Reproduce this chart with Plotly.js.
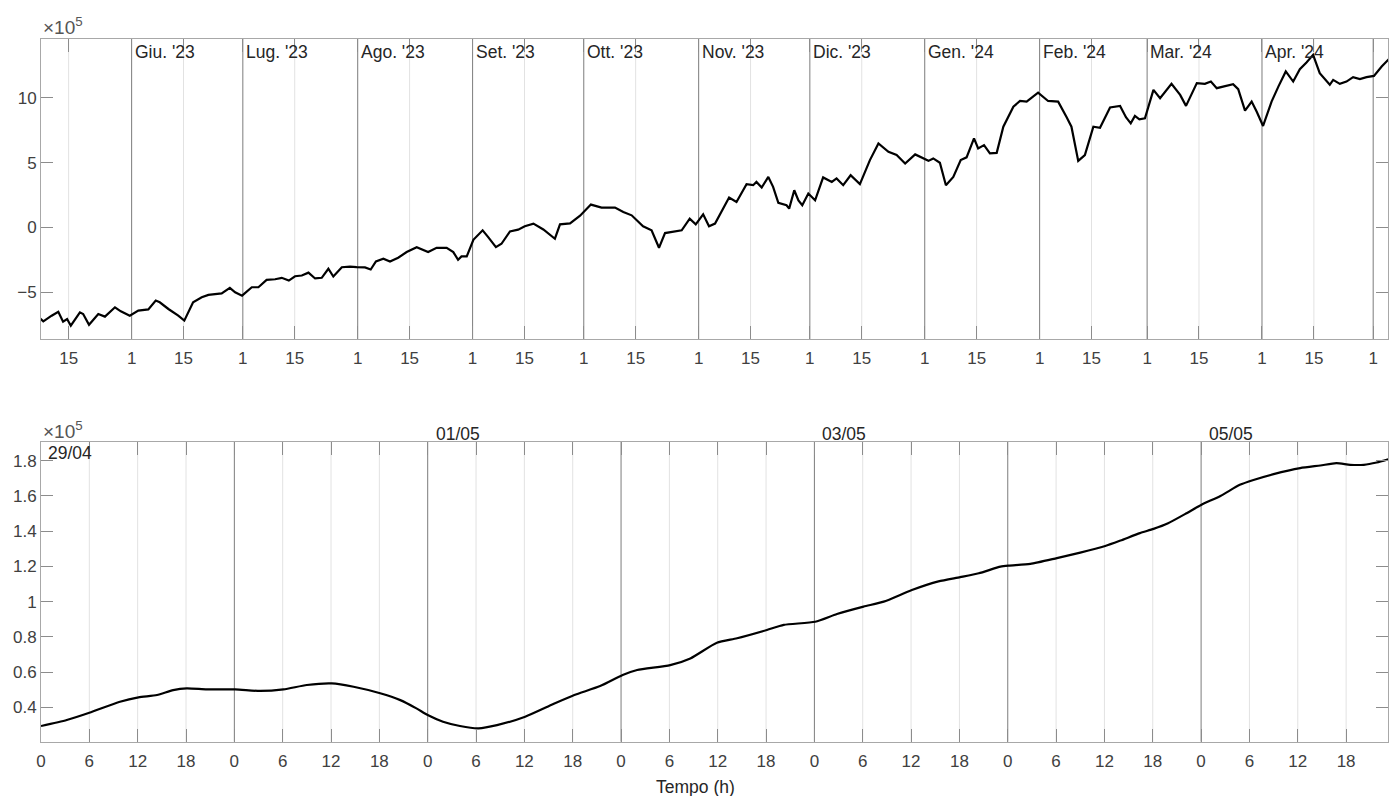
<!DOCTYPE html>
<html>
<head>
<meta charset="utf-8">
<script src="https://cdn.plot.ly/plotly-3.0.1.min.js"></script>
<style>
  html, body { margin: 0; padding: 0; background: #ffffff; }
  #chart { width: 1389px; height: 796px; }
</style>
</head>
<body>
<div id="chart"></div>
<script>
// ---------- DATA (values in units of 10^5) ----------
const topDates = [
  '2023-05-07 00:00','2023-05-08 04:00','2023-05-10 10:00','2023-05-12 05:00','2023-05-13 12:00',
  '2023-05-14 14:00','2023-05-15 14:00','2023-05-18 01:00','2023-05-18 22:00','2023-05-20 12:00',
  '2023-05-23 00:00','2023-05-24 19:00','2023-05-27 12:00','2023-05-29 02:00','2023-05-31 12:00',
  '2023-06-02 19:00','2023-06-05 12:00','2023-06-07 12:00','2023-06-08 14:00','2023-06-10 22:00',
  '2023-06-13 14:00','2023-06-15 05:00','2023-06-17 14:00','2023-06-19 22:00','2023-06-21 17:00',
  '2023-06-23 22:00','2023-06-25 07:00','2023-06-27 12:00','2023-06-28 22:00','2023-06-30 19:00',
  '2023-07-03 10:00','2023-07-05 05:00','2023-07-07 10:00','2023-07-09 17:00','2023-07-11 12:00',
  '2023-07-13 10:00','2023-07-15 02:00','2023-07-16 22:00','2023-07-18 17:00','2023-07-20 12:00',
  '2023-07-22 07:00','2023-07-24 02:00','2023-07-25 10:00','2023-07-27 17:00','2023-07-29 22:00',
  '2023-07-31 17:00','2023-08-02 23:00','2023-08-04 12:00','2023-08-05 22:00','2023-08-07 22:00',
  '2023-08-09 17:00','2023-08-11 22:00','2023-08-14 05:00','2023-08-16 22:00','2023-08-20 00:00',
  '2023-08-22 07:00','2023-08-25 00:00','2023-08-26 19:00','2023-08-28 02:00','2023-08-29 00:00',
  '2023-08-30 10:00','2023-09-01 05:00','2023-09-03 17:00','2023-09-05 05:00','2023-09-07 07:00',
  '2023-09-08 19:00','2023-09-11 02:00','2023-09-13 07:00','2023-09-15 02:00','2023-09-17 10:00',
  '2023-09-20 02:00','2023-09-23 05:00','2023-09-24 14:00','2023-09-27 07:00','2023-09-30 00:00',
  '2023-10-02 22:00','2023-10-05 19:00','2023-10-09 10:00','2023-10-11 16:00','2023-10-13 22:00',
  '2023-10-17 00:00','2023-10-19 07:00','2023-10-21 07:00','2023-10-22 22:00','2023-10-25 14:00',
  '2023-10-27 10:00','2023-10-29 14:00','2023-10-31 05:00','2023-11-02 05:00','2023-11-03 19:00',
  '2023-11-05 10:00','2023-11-07 05:00','2023-11-09 05:00','2023-11-11 05:00','2023-11-13 22:00',
  '2023-11-15 17:00','2023-11-16 14:00','2023-11-18 00:00','2023-11-19 19:00','2023-11-21 02:00',
  '2023-11-22 12:00','2023-11-24 17:00','2023-11-25 10:00','2023-11-26 19:00','2023-11-27 22:00',
  '2023-11-28 23:00','2023-11-30 14:00','2023-12-02 10:00','2023-12-04 14:00','2023-12-06 22:00',
  '2023-12-08 05:00','2023-12-10 00:00','2023-12-12 00:00','2023-12-14 12:00','2023-12-17 05:00',
  '2023-12-19 12:00','2023-12-22 05:00','2023-12-24 10:00','2023-12-26 17:00','2023-12-29 10:00',
  '2023-12-31 14:00','2024-01-02 00:00','2024-01-03 07:00','2024-01-05 02:00','2024-01-06 17:00',
  '2024-01-08 17:00','2024-01-10 17:00','2024-01-12 07:00','2024-01-14 07:00','2024-01-15 10:00',
  '2024-01-17 00:00','2024-01-18 14:00','2024-01-20 10:00','2024-01-22 05:00','2024-01-24 22:00',
  '2024-01-26 17:00','2024-01-28 12:00','2024-01-31 14:00','2024-02-03 07:00','2024-02-06 00:00',
  '2024-02-08 07:00','2024-02-09 14:00','2024-02-11 10:00','2024-02-13 05:00','2024-02-15 12:00',
  '2024-02-17 07:00','2024-02-20 00:00','2024-02-22 17:00','2024-02-24 07:00','2024-02-25 14:00',
  '2024-02-26 17:00','2024-02-27 22:00','2024-02-29 10:00','2024-03-02 17:00','2024-03-04 12:00',
  '2024-03-07 14:00','2024-03-09 22:00','2024-03-11 12:00','2024-03-14 10:00','2024-03-16 14:00',
  '2024-03-18 05:00','2024-03-19 19:00','2024-03-21 12:00','2024-03-24 05:00','2024-03-25 14:00',
  '2024-03-27 10:00','2024-03-29 05:00','2024-03-30 14:00','2024-04-01 07:00','2024-04-03 14:00',
  '2024-04-05 10:00','2024-04-07 10:00','2024-04-09 10:00','2024-04-11 05:00','2024-04-13 00:00',
  '2024-04-14 19:00','2024-04-16 14:00','2024-04-19 07:00','2024-04-20 05:00','2024-04-22 00:00',
  '2024-04-23 19:00','2024-04-25 14:00','2024-04-27 10:00','2024-04-29 05:00','2024-05-01 05:00',
  '2024-05-03 07:00','2024-05-05 05:00'
];
const topValues = [
  -6.96,-7.27,-6.83,-6.52,-7.29, -7.09,-7.60,-6.57,-6.70,-7.53,
  -6.70,-6.90,-6.18,-6.49,-6.83, -6.44,-6.34,-5.66,-5.79,-6.31,
  -6.83,-7.21,-5.79,-5.41,-5.22, -5.15,-5.10,-4.68,-5.02,-5.28,
  -4.63,-4.63,-4.06,-4.01,-3.90, -4.11,-3.78,-3.72,-3.50,-3.95,
  -3.90,-3.20,-3.80,-3.08,-3.03, -3.08,-3.10,-3.26,-2.64,-2.43,
  -2.64,-2.35,-1.91,-1.53,-1.91, -1.58,-1.58,-1.91,-2.51,-2.25,
  -2.25,-0.96,-0.23,-0.75,-1.53, -1.27,-0.31,-0.18,0.08,0.29,
  -0.16,-0.88,0.23,0.31,0.90, 1.76,1.53,1.53,1.19,0.93,
  0.08,-0.23,-1.58,-0.44,-0.31, -0.23,0.67,0.23,1.01,0.08,
  0.29,1.19,2.30,1.96,3.34, 3.26,3.51,3.08,3.90,3.13,
  1.89,1.71,1.45,2.87,2.09, 1.71,2.61,2.09,3.86,3.51,
  3.78,3.26,4.03,3.34,5.20, 6.49,5.84,5.59,4.94,5.64,
  5.33,5.14,5.33,4.99,3.26, 3.90,5.20,5.41,6.88,6.10,
  6.36,5.72,5.76,7.78,9.33, 9.77,9.72,10.42,9.77,9.72,
  8.51,7.78,5.14,5.59,7.78, 7.70,9.27,9.39,8.51,8.04,
  8.61,8.35,8.43,10.63,9.98, 11.09,10.24,9.39,11.15,11.09,
  11.27,10.76,10.88,11.07,10.68, 9.02,9.72,8.94,7.84,9.72,
  10.88,12.05,11.27,12.23,12.75, 13.34,11.92,11.02,11.40,11.09,
  11.27,11.61,11.46,11.61,11.71, 12.43,13.00
];

const bottomTimes = [
  '2024-04-29 00:00','2024-04-29 03:12','2024-04-29 06:00','2024-04-29 09:48','2024-04-29 12:06',
  '2024-04-29 14:24','2024-04-29 16:24','2024-04-29 18:06','2024-04-29 20:36','2024-04-30 00:06',
  '2024-04-30 03:12','2024-04-30 06:06','2024-04-30 09:00','2024-04-30 12:06','2024-04-30 14:48',
  '2024-04-30 18:06','2024-04-30 20:36','2024-04-30 22:36','2024-05-01 00:00','2024-05-01 01:54',
  '2024-05-01 04:00','2024-05-01 06:18','2024-05-01 08:36','2024-05-01 12:06','2024-05-01 15:36',
  '2024-05-01 18:12','2024-05-01 21:24','2024-05-02 00:12','2024-05-02 02:00','2024-05-02 06:06',
  '2024-05-02 08:36','2024-05-02 11:54','2024-05-02 14:24','2024-05-02 18:06','2024-05-02 20:12',
  '2024-05-03 00:06','2024-05-03 02:48','2024-05-03 06:06','2024-05-03 08:36','2024-05-03 12:06',
  '2024-05-03 15:24','2024-05-03 18:06','2024-05-03 20:24','2024-05-03 23:06','2024-05-04 00:06',
  '2024-05-04 02:48','2024-05-04 06:06','2024-05-04 09:00','2024-05-04 12:06','2024-05-04 14:00',
  '2024-05-04 16:24','2024-05-04 18:06','2024-05-04 19:54','2024-05-04 22:12','2024-05-05 00:00',
  '2024-05-05 02:24','2024-05-05 04:48','2024-05-05 06:30','2024-05-05 09:00','2024-05-05 12:18',
  '2024-05-05 14:48','2024-05-05 16:48','2024-05-05 18:30','2024-05-05 20:12','2024-05-05 21:48',
  '2024-05-05 23:18'
];
const bottomValues = [
  0.294,0.328,0.369,0.432,0.457, 0.470,0.498,0.508,0.502,0.502,
  0.493,0.502,0.527,0.536,0.517, 0.480,0.441,0.394,0.356,0.318,
  0.294,0.281,0.299,0.347,0.419, 0.470,0.521,0.584,0.612,0.640,
  0.678,0.767,0.792,0.839,0.868, 0.886,0.930,0.972,1.000,1.066,
  1.115,1.139,1.161,1.199,1.205, 1.214,1.247,1.278,1.316,1.347,
  1.389,1.413,1.445,1.502,1.549, 1.600,1.663,1.691,1.724,1.758,
  1.773,1.786,1.777,1.777,1.790, 1.809
];

const monthStarts = ['2023-06-01','2023-07-01','2023-08-01','2023-09-01','2023-10-01','2023-11-01',
                     '2023-12-01','2024-01-01','2024-02-01','2024-03-01','2024-04-01','2024-05-01'];
const monthLabels = ["Giu. '23","Lug. '23","Ago. '23","Set. '23","Ott. '23","Nov. '23",
                     "Dic. '23","Gen. '24","Feb. '24","Mar. '24","Apr. '24",""];
const midMonthDays = ['2023-05-15','2023-06-15','2023-07-15','2023-08-15','2023-09-15','2023-10-15',
                      '2023-11-15','2023-12-15','2024-01-15','2024-02-15','2024-03-15','2024-04-15'];
const topYTicks = [-5, 0, 5, 10];

const bottomDays = ['2024-04-29','2024-04-30','2024-05-01','2024-05-02','2024-05-03','2024-05-04','2024-05-05'];
const minorHours = [6, 12, 18];
const dayLabelDates = ['2024-05-01','2024-05-03','2024-05-05'];
const dayLabels = ['01/05','03/05','05/05'];
const firstDayLabel = '29/04';
const bottomYTicks = [0.4, 0.6, 0.8, 1, 1.2, 1.4, 1.6, 1.8];
const xTitle = 'Tempo (h)';
const exponentLabel = '×10<sup>5</sup>';

// ---------- STYLE ----------
const W = 1389, H = 796;
const FONT = 'Liberation Sans, Arial, Helvetica, sans-serif';
const tickFont = {family: FONT, size: 17, color: '#404040'};
const boxColor = '#a8a8a8';
const majorColor = '#7c7c7c';
const minorColor = '#e2e2e2';
const py = p => 1 - p / H;   // pixel row -> paper y (zero top/bottom margins)
const pad2 = n => (n < 10 ? '0' : '') + n;

const commonX = {
  type: 'date', ticks: 'inside', ticklen: 13, tickcolor: '#8c8c8c', tickwidth: 1,
  showline: true, linecolor: boxColor, linewidth: 1, mirror: 'allticks',
  showgrid: false, zeroline: false, tickfont: tickFont, fixedrange: true
};
const commonY = {
  ticks: 'inside', ticklen: 12, tickcolor: '#8c8c8c', tickwidth: 1,
  showline: true, linecolor: boxColor, linewidth: 1, mirror: 'allticks',
  showgrid: false, zeroline: false, tickfont: tickFont, fixedrange: true
};

const traces = [
  {x: topDates, y: topValues, xaxis: 'x', yaxis: 'y', type: 'scatter', mode: 'lines',
   line: {color: '#000000', width: 2.2}, hoverinfo: 'skip'},
  {x: bottomTimes, y: bottomValues, xaxis: 'x2', yaxis: 'y2', type: 'scatter', mode: 'lines',
   line: {color: '#000000', width: 2.2, shape: 'spline', smoothing: 0.6}, hoverinfo: 'skip'}
];

const shapes = [];
function vline(xref, yref, d, color) {
  shapes.push({type: 'line', xref: xref, yref: yref, x0: d, x1: d, y0: 0, y1: 1,
    line: {color: color, width: 1}, layer: 'below'});
}
midMonthDays.forEach(d => vline('x', 'y domain', d, minorColor));
monthStarts.forEach(d => vline('x', 'y domain', d, majorColor));
bottomDays.forEach(d => minorHours.forEach(h => vline('x2', 'y2 domain', d + ' ' + pad2(h) + ':00', minorColor)));
bottomDays.slice(1).forEach(d => vline('x2', 'y2 domain', d, majorColor));

const annotations = [];
monthStarts.forEach((d, i) => {
  if (!monthLabels[i]) return;
  annotations.push({x: d, xref: 'x', y: py(52), yref: 'paper', xanchor: 'left', yanchor: 'middle',
    xshift: 1, text: monthLabels[i], showarrow: false, font: {family: FONT, size: 17.5, color: '#262626'}});
});
dayLabelDates.forEach((d, i) => {
  annotations.push({x: d, xref: 'x2', y: py(434), yref: 'paper', xanchor: 'left', yanchor: 'middle',
    xshift: 6, text: dayLabels[i], showarrow: false, font: {family: FONT, size: 17.5, color: '#262626'}});
});
annotations.push({x: 0, xref: 'paper', y: py(453), yref: 'paper', xanchor: 'left', yanchor: 'middle',
  xshift: 5, text: firstDayLabel, showarrow: false, font: {family: FONT, size: 17.5, color: '#262626'}});
annotations.push({x: 0, xref: 'paper', y: py(26), yref: 'paper', xanchor: 'left', yanchor: 'middle',
  xshift: 0, text: exponentLabel, showarrow: false, font: {family: FONT, size: 19, color: '#555555'}});
annotations.push({x: 0, xref: 'paper', y: py(430), yref: 'paper', xanchor: 'left', yanchor: 'middle',
  xshift: 0, text: exponentLabel, showarrow: false, font: {family: FONT, size: 19, color: '#555555'}});
annotations.push({x: (695.5 - 41) / (1388 - 41), xref: 'paper', y: py(787), yref: 'paper', xanchor: 'center', yanchor: 'middle',
  text: xTitle, showarrow: false, font: {family: FONT, size: 17.5, color: '#262626'}});

const layout = {
  width: W, height: H,
  margin: {l: 41, r: 1, t: 0, b: 0, pad: 0},
  paper_bgcolor: '#ffffff', plot_bgcolor: '#ffffff',
  showlegend: false,
  font: {family: FONT, color: '#404040'},
  xaxis: Object.assign({}, commonX, {
    domain: [0, 1], anchor: 'y',
    range: ['2023-05-07 13:00', '2024-05-05 00:00'],
    tickmode: 'array', tickvals: midMonthDays.concat(monthStarts), tickformat: '%-d', ticklabelstandoff: 4
  }),
  yaxis: Object.assign({}, commonY, {
    domain: [py(339), py(39)], anchor: 'x',
    range: [-8.63, 14.56], tickmode: 'array', tickvals: topYTicks
  }),
  xaxis2: Object.assign({}, commonX, {
    domain: [0, 1], anchor: 'y2',
    range: ['2024-04-29 00:00', '2024-05-05 23:12'],
    tick0: '2024-04-29 00:00', dtick: 6 * 3600 * 1000, tickformat: '%-H', ticklabelstandoff: 4
  }),
  yaxis2: Object.assign({}, commonY, {
    domain: [py(741.7), py(441.7)], anchor: 'x2',
    range: [0.205, 1.908], tickmode: 'array', tickvals: bottomYTicks
  }),
  shapes: shapes,
  annotations: annotations
};

Plotly.newPlot('chart', traces, layout, {displayModeBar: false, staticPlot: true});
</script>
</body>
</html>
